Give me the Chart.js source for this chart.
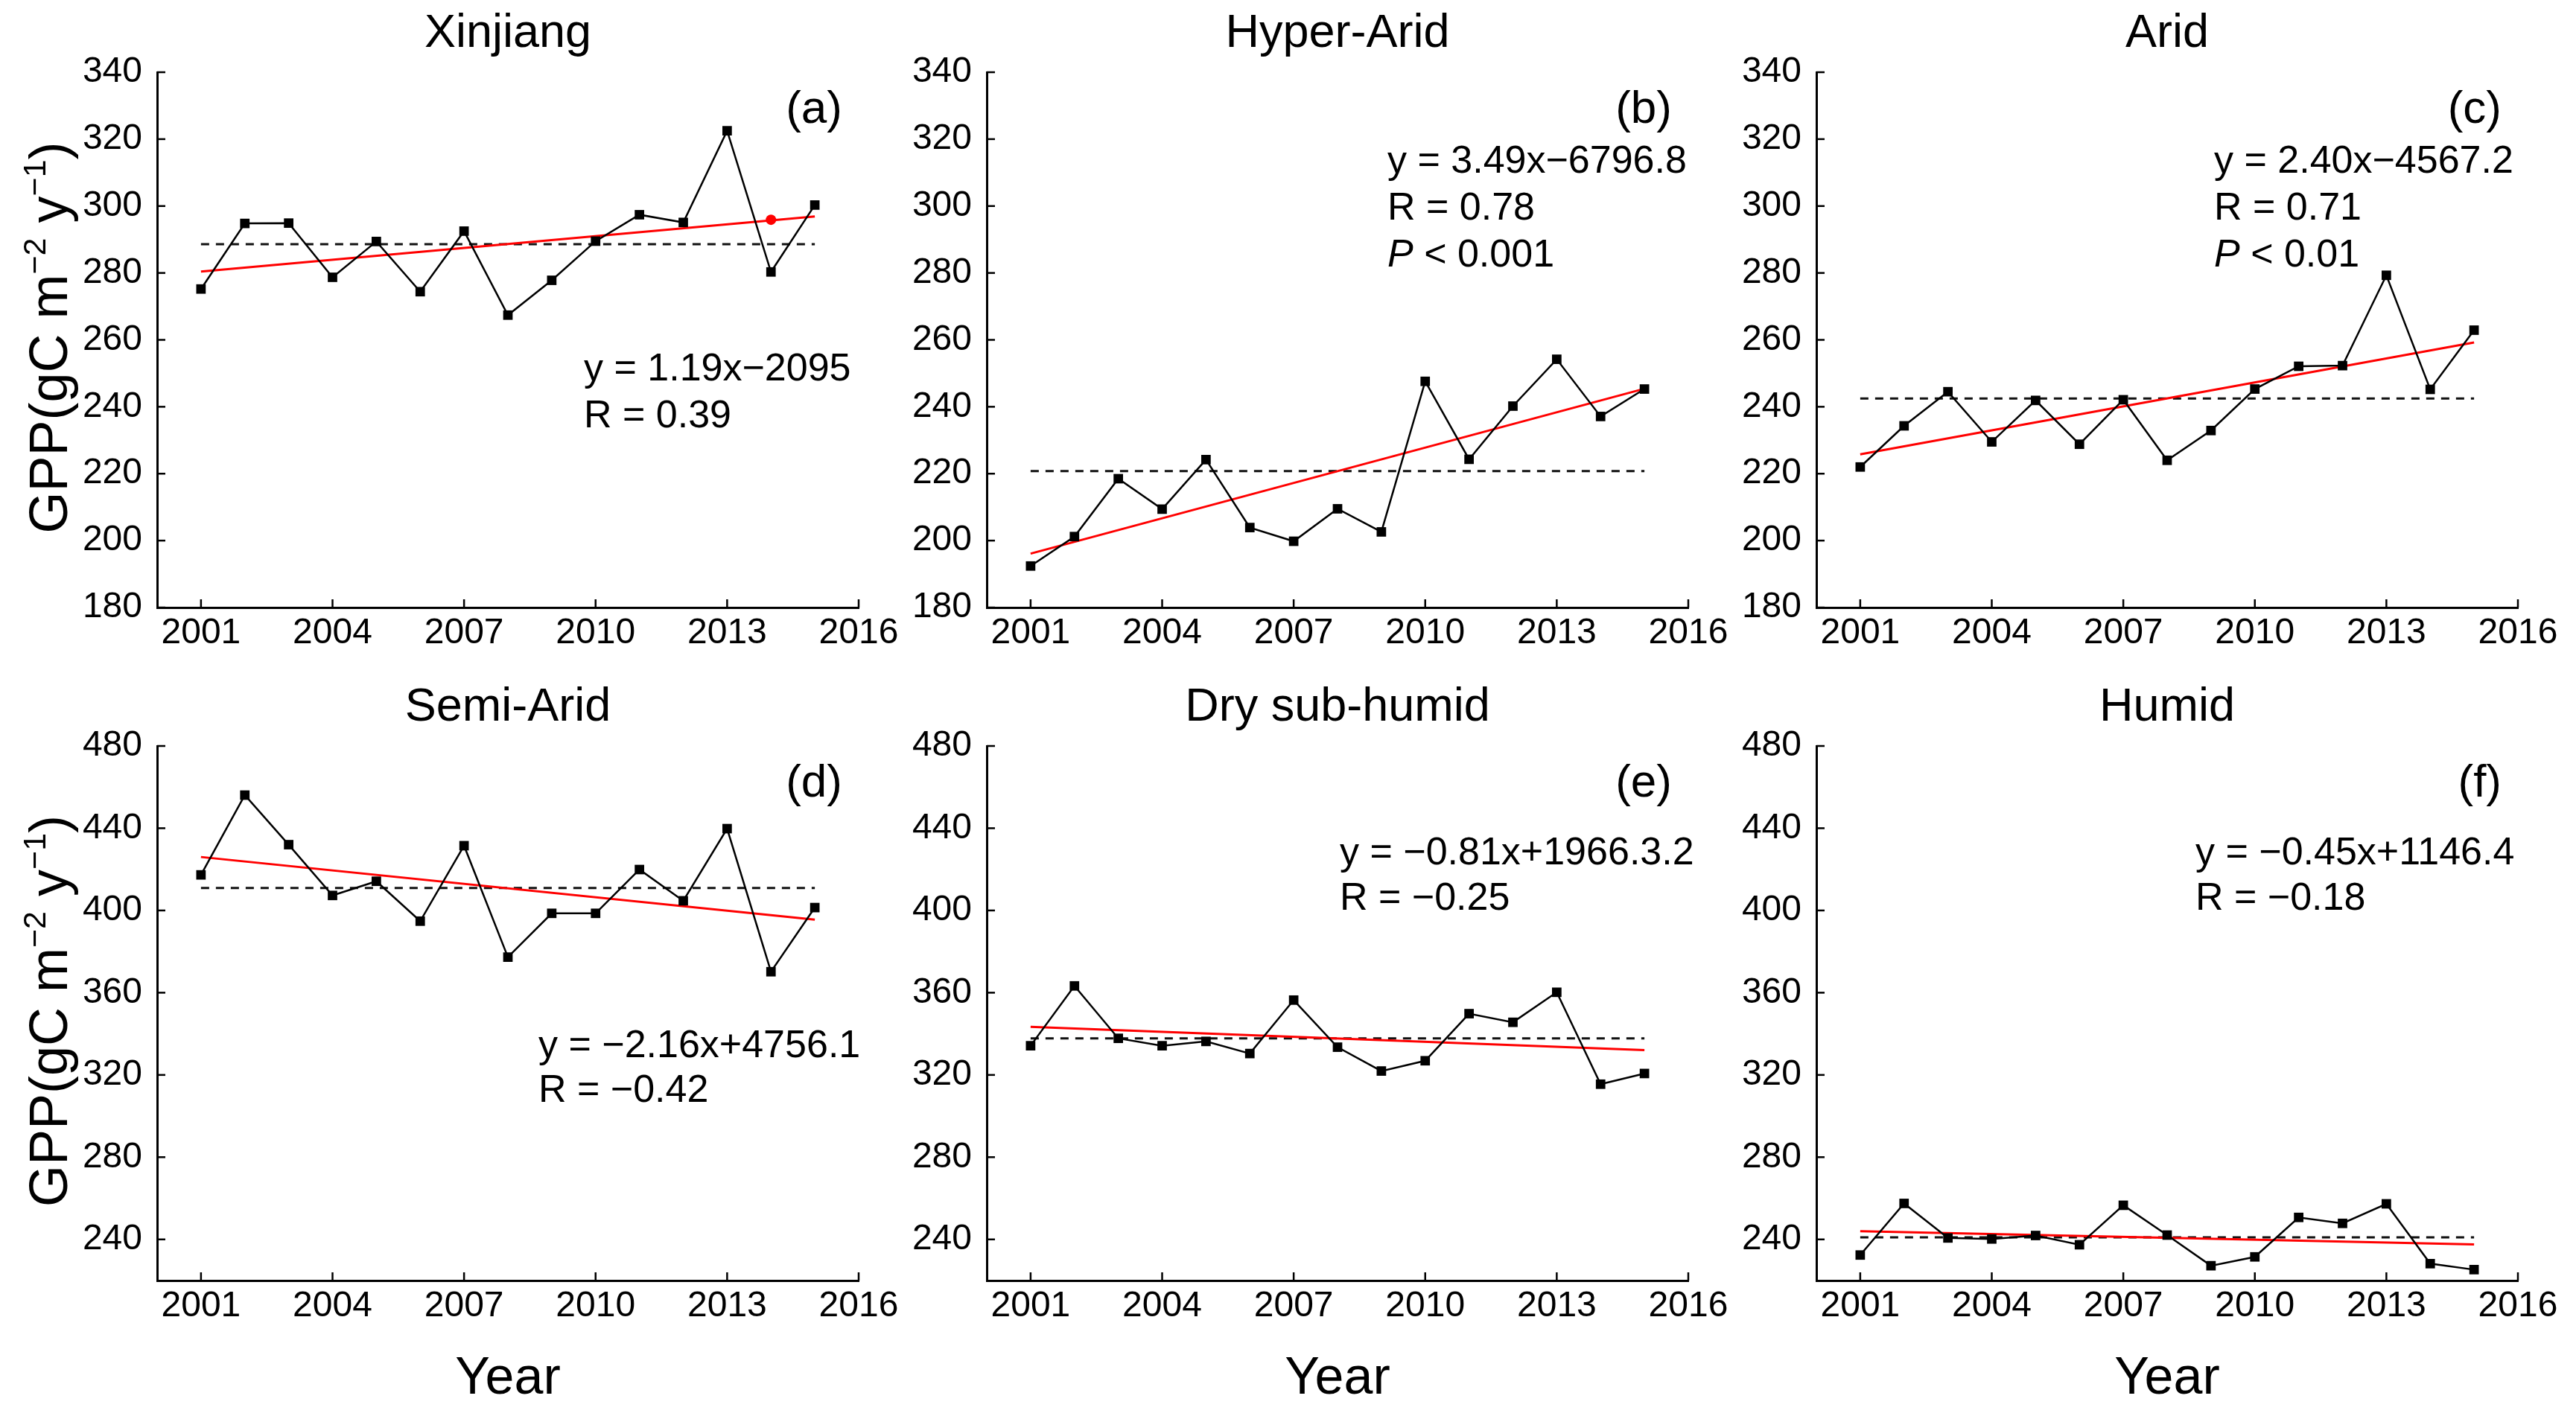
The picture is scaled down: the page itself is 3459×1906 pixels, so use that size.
<!DOCTYPE html>
<html>
<head>
<meta charset="utf-8">
<script src="https://cdn.jsdelivr.net/npm/chart.js@4.4.0/dist/chart.umd.min.js"></script>
<style>
html,body{margin:0;padding:0;background:#fff;}
body{width:3459px;height:1906px;position:relative;overflow:hidden;}
canvas{position:absolute;}
</style>
</head>
<body>
<canvas id="c0"></canvas><canvas id="c1"></canvas><canvas id="c2"></canvas>
<canvas id="c3"></canvas><canvas id="c4"></canvas><canvas id="c5"></canvas>
<script>
// ---------------- DATA ----------------
const years = [2001,2002,2003,2004,2005,2006,2007,2008,2009,2010,2011,2012,2013,2014,2015];
const xTicks = [2001,2004,2007,2010,2013,2016];
const yTicksTop = [180,200,220,240,260,280,300,320,340];
const yTicksBottom = [240,280,320,360,400,440,480];

const titles = ['Xinjiang','Hyper-Arid','Arid','Semi-Arid','Dry sub-humid','Humid'];
const panelLabels = ['(a)','(b)','(c)','(d)','(e)','(f)'];

const gppXinjiang    = [275.2,294.8,294.9,278.7,289.4,274.4,292.5,267.4,277.8,289.5,297.4,295.1,322.5,280.3,300.3];
const gppHyperArid   = [192.4,201.2,218.5,209.4,224.2,203.9,199.8,209.5,202.6,247.6,224.3,240.2,254.2,237.1,245.3];
const gppArid        = [222.0,234.3,244.5,229.5,241.9,228.8,242.1,224.0,232.9,245.3,252.1,252.3,279.3,245.2,262.9];
const gppSemiArid    = [417.3,456.1,432.0,407.3,414.2,394.8,431.5,377.3,398.6,398.6,419.9,404.7,439.8,370.2,401.4];
const gppDrySubHumid = [334.2,363.3,337.8,334.2,336.3,330.4,356.4,333.5,321.9,326.9,349.8,345.6,360.2,315.5,320.7];
const gppHumid       = [232.4,257.5,240.7,240.2,241.9,237.4,256.6,242.1,227.2,231.5,250.7,247.8,257.3,228.2,225.3];

const meanValues = [288.6,220.8,242.5,410.9,337.8,241.0];
const trendStart = [280.4,196.1,225.8,426.0,343.4,244.0];   // fitted value at 2001
const trendEnd   = [296.9,245.4,259.2,395.5,332.1,237.6];   // fitted value at 2015
const highlightYear = 2014;
const highlightValue = 295.9;

const equations = [
  [[{t:'y = 1.19x\u22122095'}],[{t:'R = 0.39'}]],
  [[{t:'y = 3.49x\u22126796.8'}],[{t:'R = 0.78'}],[{t:'P',i:true},{t:' < 0.001'}]],
  [[{t:'y = 2.40x\u22124567.2'}],[{t:'R = 0.71'}],[{t:'P',i:true},{t:' < 0.01'}]],
  [[{t:'y = \u22122.16x+4756.1'}],[{t:'R = \u22120.42'}]],
  [[{t:'y = \u22120.81x+1966.3.2'}],[{t:'R = \u22120.25'}]],
  [[{t:'y = \u22120.45x+1146.4'}],[{t:'R = \u22120.18'}]]
];
const seriesList = [gppXinjiang,gppHyperArid,gppArid,gppSemiArid,gppDrySubHumid,gppHumid];

// ---------------- LAYOUT / STYLE ----------------
const FONT = '"Liberation Sans", Arial, Helvetica, sans-serif';
const CW = 1230;
const colLeft = [0,1114,2228];
const rowTop = [0,905];
const rowHeight = [900,1001];
const xAxisHeight = [84,186];
const yRange = [[180,340],[220,480]];
const eqPos = [ // offset of first line baseline from chartArea left/top, line spacing
  {dx:573,dy:414,ls:63},{dx:538,dy:135,ls:63},{dx:534,dy:135,ls:63},
  {dx:512,dy:418,ls:60},{dx:474,dy:159,ls:61},{dx:509,dy:159,ls:61}
];

function drawSegments(ctx, segs, x, y, size){
  let cx = x;
  segs.forEach(s=>{
    ctx.font = (s.i?'italic ':'') + size + 'px ' + FONT;
    ctx.fillText(s.t, cx, y);
    cx += ctx.measureText(s.t).width;
  });
}

const overlay = {
  id:'overlay',
  afterDraw(chart, args, o){
    const ctx = chart.ctx, a = chart.chartArea, xs = chart.scales.x, ys = chart.scales.y;
    ctx.save();
    // inward tick marks
    ctx.strokeStyle = '#000'; ctx.lineWidth = 2.5;
    xs.ticks.forEach(t=>{const px = xs.getPixelForValue(t.value);
      ctx.beginPath(); ctx.moveTo(px,a.bottom); ctx.lineTo(px,a.bottom-11); ctx.stroke();});
    ys.ticks.forEach(t=>{const py = ys.getPixelForValue(t.value);
      ctx.beginPath(); ctx.moveTo(a.left,py); ctx.lineTo(a.left+11,py); ctx.stroke();});
    ctx.fillStyle = '#000';
    // panel title
    ctx.font = '63px ' + FONT; ctx.textAlign = 'center'; ctx.textBaseline = 'alphabetic';
    ctx.fillText(o.title, (a.left+a.right)/2, a.top-34);
    // panel letter
    ctx.font = '62px ' + FONT; ctx.textAlign = 'right';
    ctx.fillText(o.label, a.right-22, a.top+68);
    // equation
    ctx.textAlign = 'left';
    o.eq.forEach((line,k)=>drawSegments(ctx, line, a.left+o.pos.dx, a.top+o.pos.dy+k*o.pos.ls, 52));
    // y title
    if (o.yTitle){
      ctx.save();
      ctx.translate(a.left-121, (a.top+a.bottom)/2-3);
      ctx.rotate(-Math.PI/2);
      const segs = [{t:'GPP(gC m',s:72,r:0},{t:'\u22122',s:43,r:29},{t:' y',s:72,r:0},{t:'\u22121',s:43,r:29},{t:')',s:72,r:0}];
      let tot = 0;
      segs.forEach(s=>{ctx.font = s.s+'px '+FONT; s.w = ctx.measureText(s.t).width; tot += s.w;});
      let cx = -tot/2;
      segs.forEach(s=>{ctx.font = s.s+'px '+FONT; ctx.fillText(s.t, cx, -s.r); cx += s.w;});
      ctx.restore();
    }
    if (o.xTitle){
      ctx.font = '70px ' + FONT; ctx.textAlign = 'center';
      ctx.fillText('Year', (a.left+a.right)/2, a.bottom+152);
    }
    ctx.restore();
  }
};

for (let i=0;i<6;i++){
  const row = Math.floor(i/3), col = i%3;
  const cv = document.getElementById('c'+i);
  cv.width = CW; cv.height = rowHeight[row];
  cv.style.left = colLeft[col]+'px'; cv.style.top = rowTop[row]+'px';
  cv.style.width = CW+'px'; cv.style.height = rowHeight[row]+'px';
  const yTicks = row===0 ? yTicksTop : yTicksBottom;
  const datasets = [
    {data: years.map((yr,k)=>({x:yr,y:seriesList[i][k]})), borderColor:'#000', borderWidth:2.5,
     pointStyle:'rect', pointRadius:9, pointBackgroundColor:'#000', pointBorderWidth:0, order:1},
    {data:[{x:years[0],y:trendStart[i]},{x:years[years.length-1],y:trendEnd[i]}], borderColor:'#ff0000',
     borderWidth:3, pointRadius:0, order:2},
    {data:[{x:years[0],y:meanValues[i]},{x:years[years.length-1],y:meanValues[i]}], borderColor:'#111',
     borderWidth:3, borderDash:[11,9], pointRadius:0, order:3}
  ];
  if (i===0){
    datasets.push({data:[{x:highlightYear,y:highlightValue}], showLine:false, pointStyle:'circle',
      pointRadius:7, pointBackgroundColor:'#ff0000', pointBorderWidth:0, order:0});
  }
  new Chart(cv, {
    type:'line',
    data:{datasets},
    plugins:[overlay],
    options:{
      responsive:false, animation:false, devicePixelRatio:1,
      layout:{padding:{top:97,left:0,right:CW-211-942,bottom:0}},
      elements:{line:{tension:0}},
      plugins:{
        legend:{display:false}, tooltip:{enabled:false}, title:{display:false},
        overlay:{title:titles[i], label:panelLabels[i], eq:equations[i], pos:eqPos[i],
                 yTitle: col===0, xTitle: row===1}
      },
      scales:{
        x:{type:'linear', min:2000, max:2016,
           afterBuildTicks:s=>{s.ticks = xTicks.map(v=>({value:v}));},
           afterFit:s=>{s.height = xAxisHeight[row];},
           grid:{display:false, drawTicks:false},
           border:{display:true, color:'#000', width:3},
           ticks:{font:{family:FONT,size:48}, color:'#000', padding:6, maxRotation:0, autoSkip:false,
                  callback:v=>String(v)}},
        y:{type:'linear', min:yRange[row][0], max:yRange[row][1],
           afterBuildTicks:s=>{s.ticks = yTicks.map(v=>({value:v}));},
           afterFit:s=>{s.width = 211;},
           grid:{display:false, drawTicks:false},
           border:{display:true, color:'#000', width:3},
           ticks:{font:{family:FONT,size:48}, color:'#000', padding:20, autoSkip:false,
                  callback:v=>String(v)}}
      }
    }
  });
}
</script>
</body>
</html>
